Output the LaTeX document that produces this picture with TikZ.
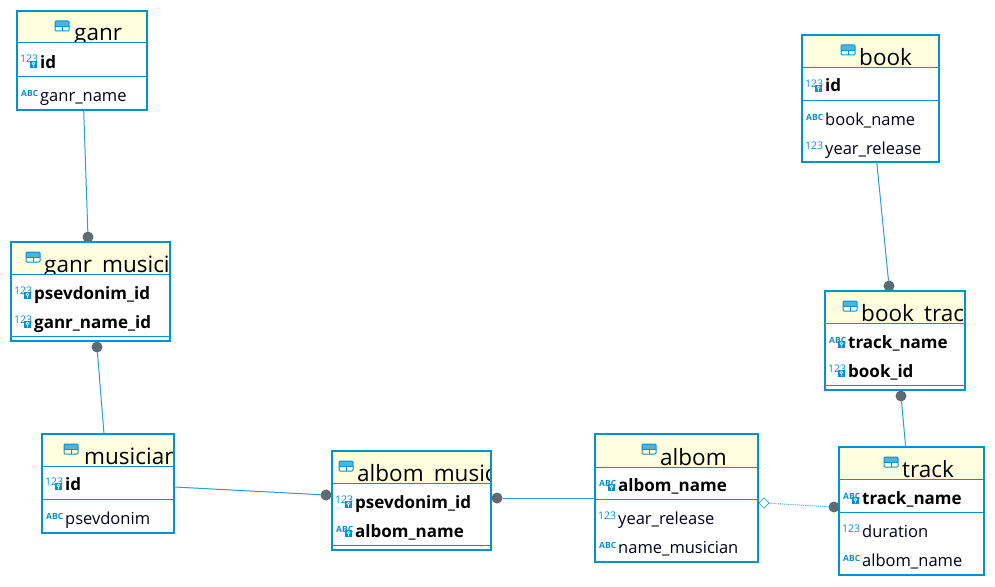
\documentclass[tikz,border=0pt]{standalone}
\usepackage{fontspec}
\setmainfont{Open Sans}
\usetikzlibrary{shapes.geometric}
\definecolor{dbblue}{HTML}{0093D0}
\definecolor{dbhead}{HTML}{FFFFE0}
\definecolor{dbdot}{HTML}{5F6B73}
\definecolor{dbline}{HTML}{2A9FD6}
\tikzset{
  tablebox/.style={draw=dbblue,line width=2pt,rectangle,anchor=north west,inner sep=0pt,outer sep=0pt},
  headbox/.style={fill=dbhead},
  sepline/.style={draw=dbblue,line width=1pt},
  titletext/.style={anchor=base west,inner sep=0pt,font=\fontsize{22.5}{23}\selectfont,text=black},
  rowtext/.style={anchor=base west,inner sep=0pt,font=\fontsize{16.5}{20}\selectfont,text=black!90!blue},
  keytext/.style={rowtext,font=\fontsize{17}{20}\selectfont\bfseries,text=black},
  numicon/.style={anchor=base west,inner sep=0pt,font=\fontsize{10.5}{10}\selectfont,text=dbblue},
  abcicon/.style={anchor=base west,inner sep=0pt,font=\fontsize{8.5}{8}\selectfont\bfseries,text=dbblue},
  fkdot/.style={circle,fill=dbdot,draw=none,minimum size=11pt,inner sep=0pt,outer sep=0pt},
  relline/.style={draw=dbline,line width=1pt},
  optline/.style={draw=dbline,line width=0.9pt,densely dotted},
  optmark/.style={diamond,draw=dbline,fill=white,line width=0.7pt,minimum size=10pt,inner sep=0pt,outer sep=0pt}
}
% name, title, x1, y1, x2, y2, header bottom, icon x, title x
\newcommand\dbtable[9]{%
  \fill[white] (#3,#4) rectangle (#5,#6);
  \fill[headbox] (#3,#4) rectangle (#5,#7);
  \begin{scope}
    \clip (#3,#4) rectangle (#5-1,#7);
    \pgfmathsetmacro\tb{#7-2}
    \node[titletext] (#1-title) at (#9,\tb) {#2};
  \end{scope}
  \pgfmathsetmacro\iy{#4+10}
  \fill[dbblue!70] (#8,\iy) rectangle (#8+14,\iy+5);
  \draw[dbblue,line width=1pt,rounded corners=1pt] (#8,\iy) rectangle (#8+14,\iy+10);
  \draw[dbblue,line width=0.8pt] (#8,\iy+5) -- (#8+14,\iy+5) (#8+7,\iy+5) -- (#8+7,\iy+10);
  \draw[sepline] (#3,#7) -- (#5,#7);
  \pgfmathsetmacro\bw{#5-#3}\pgfmathsetmacro\bh{#6-#4}
  \node[tablebox,minimum width=\bw pt,minimum height=\bh pt] (#1) at (#3,#4) {};
}
% id, icon x, centre y, 1 = number / 0 = text, 1 = key / 0 = plain, label
\newcommand\dbrow[6]{%
  \pgfmathsetmacro\bl{#3+6}
  \pgfmathsetmacro\il{#3+1}
  \ifnum#4=1\node[numicon] (#1-type) at (#2,\il) {123};
  \else\node[abcicon] (#1-type) at (#2+1,\il) {ABC};\fi
  \ifnum#5=1
    \fill[dbblue] (#2+10,#3-1) rectangle (#2+17,#3+6);
    \draw[white,line width=0.7pt] (#2+13.5,#3+1.5) circle (1.4) (#2+13.5,#3+3) -- (#2+13.5,#3+5);
    \node[keytext] (#1) at (#2+20,\bl) {#6};
  \else
    \node[rowtext] (#1) at (#2+20,\bl) {#6};
  \fi
}
\begin{document}
\begin{tikzpicture}[x=1pt,y=-1pt]
\useasboundingbox (0,0) rectangle (995,586);
\fill[white] (0,0) rectangle (995,586);

% Relationship end marks
\node[fkdot] (dotganr) at (88,237) {};
\node[fkdot] (dotmus) at (97,347) {};
\node[fkdot] (dotalmus) at (326,495) {};
\node[fkdot] (dotalb) at (497,498) {};
\node[fkdot] (dottrack) at (834,507) {};
\node[fkdot] (dotbook) at (889,286) {};
\node[fkdot] (dotbt) at (901,396) {};
\node[optmark] (optalb) at (764,503) {};

% Tables
\dbtable{ganr}{ganr}{17}{11}{147}{110}{43}{55}{74}
\dbrow{ganr-id}{20}{62}{1}{1}{id}
\draw[sepline] (17,76) -- (147,76);
\dbrow{ganr-name}{20}{95}{0}{0}{ganr\_name}

\dbtable{gm}{ganr\_musician}{11}{242}{170}{341}{274}{26}{44}
\dbrow{gm-p}{14}{293}{1}{1}{psevdonim\_id}
\dbrow{gm-g}{14}{322}{1}{1}{ganr\_name\_id}
\draw[sepline] (11,336) -- (170,336);

\dbtable{mus}{musician}{42}{434}{174}{533}{466}{64}{84}
\dbrow{mus-id}{45}{484}{1}{1}{id}
\draw[sepline] (42,499) -- (174,499);
\dbrow{mus-p}{45}{518}{0}{0}{psevdonim}

\dbtable{am}{albom\_musician}{332}{451}{491}{550}{483}{339}{357}
\dbrow{am-p}{335}{502}{1}{1}{psevdonim\_id}
\dbrow{am-a}{335}{531}{0}{1}{albom\_name}
\draw[sepline] (332,545) -- (491,545);

\dbtable{alb}{albom}{595}{434}{758}{562}{467}{642}{660}
\dbrow{alb-n}{598}{485}{0}{1}{albom\_name}
\draw[sepline] (595,499) -- (758,499);
\dbrow{alb-y}{598}{518}{1}{0}{year\_release}
\dbrow{alb-m}{598}{547}{0}{0}{name\_musician}

\dbtable{trk}{track}{839}{447}{984}{575}{479}{884}{902}
\dbrow{trk-n}{842}{498}{0}{1}{track\_name}
\draw[sepline] (839,512) -- (984,512);
\dbrow{trk-d}{842}{531}{1}{0}{duration}
\dbrow{trk-a}{842}{560}{0}{0}{albom\_name}

\dbtable{bk}{book}{802}{35}{939}{162}{67}{841}{859}
\dbrow{bk-id}{805}{86}{1}{1}{id}
\draw[sepline] (802,100) -- (939,100);
\dbrow{bk-n}{805}{119}{0}{0}{book\_name}
\dbrow{bk-y}{805}{148}{1}{0}{year\_release}

\dbtable{bt}{book\_track}{825}{291}{965}{390}{323}{843}{861}
\dbrow{bt-t}{828}{342}{0}{1}{track\_name}
\dbrow{bt-b}{828}{371}{1}{1}{book\_id}
\draw[sepline] (825,385) -- (965,385);

% Connectors
\draw[relline] (ganr) -- (dotganr);
\draw[relline] (mus) -- (dotmus);
\draw[relline] (mus) -- (dotalmus);
\draw[relline] (alb) -- (dotalb);
\draw[optline] (optalb) -- (dottrack);
\draw[relline] (bk) -- (dotbook);
\draw[relline] (trk) -- (dotbt);
\end{tikzpicture}
\end{document}
